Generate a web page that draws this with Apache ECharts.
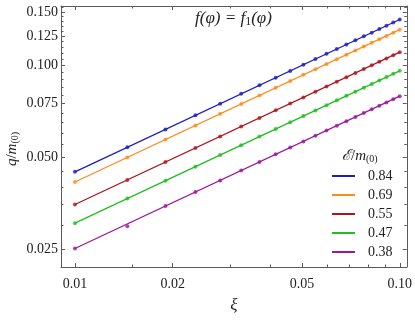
<!DOCTYPE html>
<html>
<head>
<meta charset="utf-8">
<script src="https://cdn.jsdelivr.net/npm/echarts@6/dist/echarts.min.js"></script>
<style>html,body{margin:0;padding:0;background:#fff}#c{width:415px;height:320px}</style>
</head>
<body>
<div id="c"></div>
<script>
const xi = [0.01, 0.0145, 0.019, 0.0235, 0.028, 0.0325, 0.037, 0.0415, 0.046, 0.0505, 0.055,
            0.0595, 0.064, 0.0685, 0.073, 0.0775, 0.082, 0.0865, 0.091, 0.0955, 0.1];
const q084 = [0.0448, 0.05395, 0.06175, 0.06868, 0.07496, 0.08077, 0.08617, 0.09127, 0.09609, 0.10067, 0.10506,
              0.10928, 0.11334, 0.11726, 0.12105, 0.12472, 0.12829, 0.13176, 0.13514, 0.13845, 0.14167];
const q069 = [0.0415, 0.04997, 0.0572, 0.06362, 0.06944, 0.07482, 0.07983, 0.08454, 0.08901, 0.09326, 0.09733,
              0.10123, 0.10499, 0.10862, 0.11213, 0.11553, 0.11884, 0.12206, 0.12519, 0.12825, 0.13124];
const q055 = [0.035, 0.04215, 0.04824, 0.05366, 0.05857, 0.0631, 0.06732, 0.0713, 0.07507, 0.07865, 0.08208,
              0.08538, 0.08854, 0.09161, 0.09457, 0.09744, 0.10023, 0.10294, 0.10558, 0.10816, 0.11068];
const q047 = [0.0304, 0.03661, 0.0419, 0.0466, 0.05087, 0.05481, 0.05847, 0.06193, 0.0652, 0.06831, 0.07129,
              0.07415, 0.07691, 0.07957, 0.08214, 0.08463, 0.08705, 0.08941, 0.0917, 0.09395, 0.09613];
const q038 = [0.0251, 0.0297, 0.0346, 0.03848, 0.042, 0.04525, 0.04828, 0.05113, 0.05383, 0.0564, 0.05886,
              0.06123, 0.0635, 0.06569, 0.06782, 0.06988, 0.07188, 0.07382, 0.07572, 0.07757, 0.07937];

const fitXi = [0.01, 0.1];
const fit084 = [0.0448, 0.1417];
const fit069 = [0.0415, 0.1312];
const fit055 = [0.035, 0.1107];
const fit047 = [0.0304, 0.0961];
const fit038 = [0.0251, 0.0794];

const seriesNames = ['0.84', '0.69', '0.55', '0.47', '0.38'];
const seriesColors = ['#1c1cc4', '#ff8a1c', '#b0141c', '#1fbf1f', '#9a189a'];

const xMajorTicks = [0.01, 0.02, 0.05, 0.1];
const xTickLabels = ['0.01', '0.02', '0.05', '0.10'];
const xMinorTicks = [0.015, 0.03, 0.04, 0.06, 0.07, 0.08, 0.09];
const yMajorTicks = [0.025, 0.05, 0.075, 0.1, 0.125, 0.15];
const yTickLabels = ['0.025', '0.050', '0.075', '0.100', '0.125', '0.150'];
const yMinorTicks = [0.03, 0.035, 0.04, 0.045, 0.055, 0.06, 0.065, 0.07, 0.08, 0.085, 0.09, 0.095,
                     0.105, 0.11, 0.115, 0.12, 0.13, 0.135, 0.14, 0.145, 0.155];

const pointSets = [q084, q069, q055, q047, q038];
const fitSets = [fit084, fit069, fit055, fit047, fit038];

const FONT = '"Liberation Serif", "DejaVu Serif", serif';
const AX = '#5a5a5a';
const xMin = 0.00906, xMax = 0.1051, yMin = 0.02183, yMax = 0.1569;

function lookup(vals, labels, v) {
  for (let i = 0; i < vals.length; i++) if (Math.abs(vals[i] - v) / vals[i] < 1e-6) return labels[i];
  return '';
}

function mkX(pos, ticks, len, showLabel, showLine) {
  return {
    type: 'log', logBase: 10, min: xMin, max: xMax, position: pos, gridIndex: 0,
    axisLine: { show: showLine, onZero: false, lineStyle: { color: AX, width: 1 } },
    axisTick: { show: true, inside: true, length: len, customValues: ticks, lineStyle: { color: AX, width: 1 } },
    axisLabel: { show: showLabel, customValues: xMajorTicks, margin: 10,
      formatter: v => lookup(xMajorTicks, xTickLabels, v),
      fontFamily: FONT, fontSize: 14, color: '#222' },
    splitLine: { show: false }, minorTick: { show: false }
  };
}
function mkY(pos, ticks, len, showLabel, showLine) {
  return {
    type: 'log', logBase: 10, min: yMin, max: yMax, position: pos, gridIndex: 0,
    axisLine: { show: showLine, onZero: false, lineStyle: { color: AX, width: 1 } },
    axisTick: { show: true, inside: true, length: len, customValues: ticks, lineStyle: { color: AX, width: 1 } },
    axisLabel: { show: showLabel, customValues: yMajorTicks, margin: 3,
      formatter: v => lookup(yMajorTicks, yTickLabels, v),
      fontFamily: FONT, fontSize: 14, color: '#222' },
    splitLine: { show: false }, minorTick: { show: false }
  };
}

const series = [];
seriesNames.forEach((name, i) => {
  series.push({
    name, type: 'line', xAxisIndex: 0, yAxisIndex: 0,
    data: fitXi.map((x, j) => [x, fitSets[i][j]]),
    showSymbol: false, silent: true,
    lineStyle: { color: seriesColors[i], width: 1.3 }, itemStyle: { color: seriesColors[i] }, z: 2
  });
  series.push({
    name, type: 'scatter', xAxisIndex: 0, yAxisIndex: 0,
    data: xi.map((x, j) => [x, pointSets[i][j]]),
    symbol: 'circle', symbolSize: 4,
    itemStyle: { color: seriesColors[i] }, z: 3
  });
});

const chart = echarts.init(document.getElementById('c'), null, { renderer: 'canvas' });
chart.setOption({
  animation: false,
  backgroundColor: '#fff',
  grid: { left: 61, right: 6, top: 6, bottom: 53, containLabel: false },
  xAxis: [
    Object.assign(mkX('bottom', xMajorTicks, 4, true, true), {
      name: 'ξ', nameLocation: 'middle', nameGap: 30,
      nameTextStyle: { fontFamily: FONT, fontSize: 17, fontStyle: 'italic', color: '#222' }
    }),
    mkX('bottom', xMinorTicks, 2.5, false, false),
    mkX('top', xMajorTicks, 4, false, true),
    mkX('top', xMinorTicks, 2.5, false, false)
  ],
  yAxis: [
    mkY('left', yMajorTicks, 4, true, true),
    mkY('left', yMinorTicks, 2.5, false, false),
    mkY('right', yMajorTicks, 4, false, true),
    mkY('right', yMinorTicks, 2.5, false, false)
  ],
  legend: {
    orient: 'vertical', left: 327, top: 164,
    data: seriesNames, icon: 'rect', itemWidth: 23, itemHeight: 2, itemGap: 5,
    selectedMode: false,
    textStyle: { fontFamily: FONT, fontSize: 14, color: '#222', padding: [0, 0, 0, 8] }
  },
  graphic: [
    { type: 'text', left: 195, top: 10, z: 10,
      style: { text: '{i|f}(φ) = {i|f}{s|1}(φ)', fill: '#222', font: 'italic 17px ' + FONT,
        rich: { i: { fontStyle: 'italic', fontFamily: FONT, fontSize: 17 },
                s: { fontFamily: FONT, fontSize: 12, verticalAlign: 'bottom', padding: [7, 0, 0, 0] } } } },
    { type: 'text', left: 342, top: 149, z: 10,
      style: { text: '{i|ℰ}/{i|m}{s|(0)}', fill: '#222', font: '15px ' + FONT,
        rich: { i: { fontStyle: 'italic', fontFamily: FONT, fontSize: 15 },
                s: { fontFamily: FONT, fontSize: 10, verticalAlign: 'bottom', padding: [6, 0, 0, 0] } } } },
    { type: 'text', x: 12, y: 149, rotation: Math.PI / 2, z: 10,
      style: { text: '{i|q}/{i|m}{s|(0)}', fill: '#222', font: '15px ' + FONT, align: 'center', verticalAlign: 'middle',
        rich: { i: { fontStyle: 'italic', fontFamily: FONT, fontSize: 15 },
                s: { fontFamily: FONT, fontSize: 10, verticalAlign: 'bottom', padding: [6, 0, 0, 0] } } } }
  ],
  series
});
</script>
</body>
</html>
